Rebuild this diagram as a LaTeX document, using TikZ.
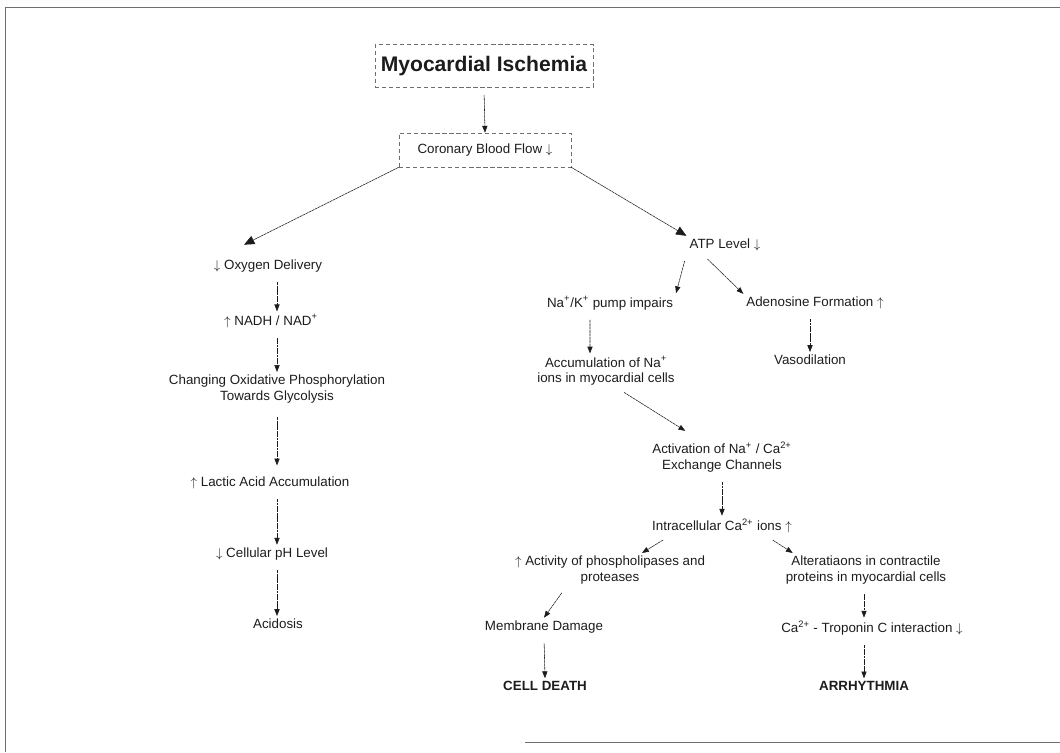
\documentclass[tikz,border=0pt]{standalone}
\usepackage{fontspec}
\setmainfont{Liberation Sans}
\usetikzlibrary{arrows.meta}
\definecolor{ink}{HTML}{1C1C1C}
\definecolor{rule}{HTML}{6E6E6E}
\tikzset{
  base/.style={font=\fontsize{9.5}{11}\selectfont,align=center,inner sep=2pt,text=ink},
  strong/.style={base,font=\fontsize{9.5}{11}\selectfont\bfseries},
  headbox/.style={base,draw=rule,thin,densely dashed,inner sep=0pt},
  titlebox/.style={headbox,font=\fontsize{15}{18}\selectfont\bfseries},
  flow/.style={-{Triangle[length=1.7mm,width=1.3mm]},thin,draw=ink,dash pattern=on 2pt off 0.4pt,shorten <=5pt},
  branch/.style={-{Triangle[length=2.6mm,width=2.2mm]},thin,draw=ink,dash pattern=on 2pt off 0.4pt},
  frame/.style={draw=rule,thin}
}

\begin{document}
\begin{tikzpicture}[x=0.025cm,y=-0.025cm]
\useasboundingbox (0,0) rectangle (1060,752);
\draw[frame] (1060,7) -- (5,7) -- (5,752);
\draw[frame] (525,742) -- (1060,742);

\node[titlebox,minimum width=5.45cm,minimum height=1.075cm] (title) at (484,66) {Myocardial Ischemia};
\node[headbox,minimum width=4.3cm,minimum height=0.85cm] (cbf) at (485,150) {Coronary Blood Flow $\downarrow$};

\node[base] (oxy) at (268,266) {$\downarrow$ Oxygen Delivery};
\node[base] (nadh) at (271,321) {$\uparrow$ NADH / NAD\textsuperscript{+}};
\node[base] (chg) at (277,389) {Changing Oxidative Phosphorylation\\Towards Glycolysis};
\node[base] (lactic) at (270,483) {$\uparrow$ Lactic Acid Accumulation};
\node[base] (ph) at (272,554) {$\downarrow$ Cellular pH Level};
\node[base] (acid) at (278,624) {Acidosis};

\node[base] (atp) at (725,245) {ATP Level $\downarrow$};
\node[base] (pump) at (610,303) {Na\textsuperscript{+}/K\textsuperscript{+} pump impairs};
\node[base] (ado) at (815,303) {Adenosine Formation $\uparrow$};
\node[base] (vaso) at (810,360) {Vasodilation};
\node[base] (accum) at (606,371) {Accumulation of Na\textsuperscript{+}\\ions in myocardial cells};
\node[base] (act) at (722,457) {Activation of Na\textsuperscript{+} / Ca\textsuperscript{2+}\\Exchange Channels};
\node[base] (intra) at (722,526) {Intracellular Ca\textsuperscript{2+} ions $\uparrow$};
\node[base] (actv) at (610,570) {$\uparrow$ Activity of phospholipases and\\proteases};
\node[base] (alt) at (866,570) {Alteratiaons in contractile\\proteins in myocardial cells};
\node[base] (memb) at (544,627) {Membrane Damage};
\node[base] (trop) at (872,628) {Ca\textsuperscript{2+} - Troponin C interaction $\downarrow$};
\node[strong] (death) at (545,686) {CELL DEATH};
\node[strong] (arr) at (864,686) {ARRHYTHMIA};

\draw[flow] (title.south) -- (cbf.north);
\draw[branch] (cbf.south west) -- ([xshift=-0.6cm,yshift=0.3cm]oxy.north);
\draw[branch] (cbf.south east) -- (atp.north west);

\draw[flow] (oxy.south -| chg) -- (nadh.north -| chg);
\draw[flow] (nadh.south -| chg) -- (chg.north);
\draw[flow,shorten <=8pt,shorten >=6pt] (chg.south) -- (lactic.north -| chg);
\draw[flow] (lactic.south -| chg) -- (ph.north -| chg);
\draw[flow] (ph.south -| chg) -- (acid.north -| chg);

\draw[flow] (atp.south west) -- (pump.north east);
\draw[flow] ([xshift=0.4cm]atp.south west) -- (ado.north west);
\draw[flow] (ado.south -| vaso) -- (vaso.north);
\draw[flow] ([xshift=-0.5cm]pump.south) -- ([xshift=-0.4cm]accum.north);
\draw[flow] ([xshift=0.3cm]accum.south) -- ([xshift=0.9cm,yshift=0.2cm]act.north west);
\draw[flow] (act.south) -- (intra.north);
\draw[flow] ([xshift=0.5cm]intra.south west) -- ([xshift=0.8cm]actv.north);
\draw[flow] ([xshift=-0.7cm]intra.south east) -- ([xshift=0.25cm]alt.north west);
\draw[flow] ([xshift=-1.1cm]actv.south) -- (memb.north);
\draw[flow] (memb.south) -- (death.north);
\draw[flow] (alt.south -| arr) -- (trop.north -| arr);
\draw[flow] (trop.south -| arr) -- (arr.north);
\end{tikzpicture}
\end{document}
